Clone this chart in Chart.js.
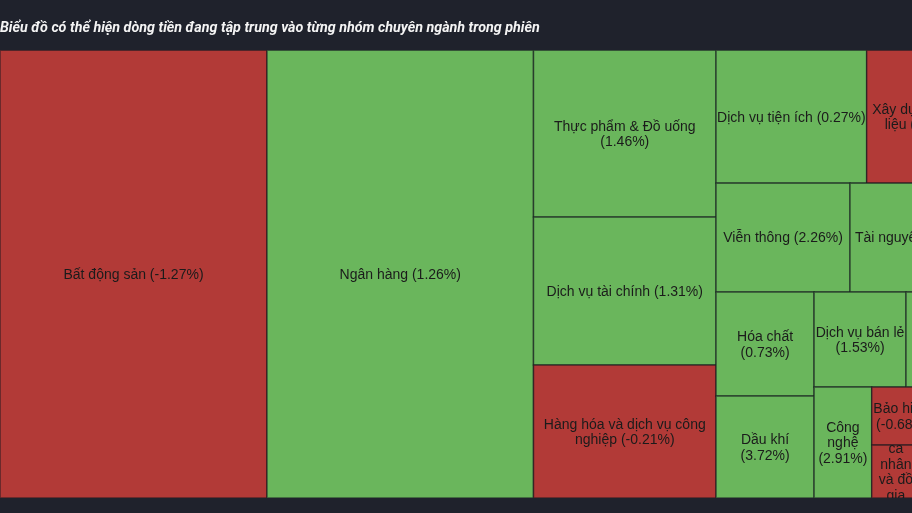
<!DOCTYPE html>
<html>
<head>
<meta charset="utf-8">
<script src="https://cdn.jsdelivr.net/npm/chart.js@4.4.1/dist/chart.umd.min.js"></script>
<style>
    html, body { margin: 0; padding: 0; background: #1f222c; }
    #wrap { width: 912px; height: 513px; }
</style>
</head>
<body>
<div id="wrap"><canvas id="sector-treemap"></canvas></div>
<script>
// ------------------------
// DATA (giá trị giao dịch, tỷ đồng; thay đổi giá, %)
// ------------------------

const sectors = [
    "Bất động sản", "Ngân hàng", "Thực phẩm & Đồ uống", "Dịch vụ tài chính",
    "Hàng hóa và dịch vụ công nghiệp", "Dịch vụ tiện ích", "Xây dựng và Vật liệu",
    "Viễn thông", "Tài nguyên", "Hóa chất", "Dầu khí", "Dịch vụ bán lẻ",
    "Du lịch và Giải trí", "Công nghệ", "Bảo hiểm", "Ô tô và phụ tùng",
    "Đồ dùng cá nhân và đồ gia dụng", "Truyền thông", "Y tế"
];

const tradeValues = [
    5981, 5970, 1524, 1351,
    1214, 1002, 767,
    730, 719, 510, 500, 437,
    361, 320, 181, 139,
    128, 85, 79
];

const priceChanges = [
    -1.27, 1.26, 1.46, 1.31,
    -0.21, 0.27, -0.45,
    2.26, 0.85, 0.73, 3.72, 1.53,
    0.94, 2.91, -0.68, 0.41,
    -0.35, 0.18, -0.12
];

const TITLE = "Biểu đồ có thể hiện dòng tiền đang tập trung vào từng nhóm chuyên ngành trong phiên";

// full treemap box (data units) and the visible window of it
const TREE_W = 982;
const TREE_H = 448;
const VIEW_W = 912;

const UP_COLOR = "#6ab65c";
const DOWN_COLOR = "#b23a37";

// ------------------------
// SQUARIFY LAYOUT
// ------------------------

function worstRatio(row, side) {
    const sum = row.reduce((a, b) => a + b, 0);
    const thick = sum / side;
    let worst = 0;
    row.forEach(a => {
        const len = a / thick;
        worst = Math.max(worst, thick / len, len / thick);
    });
    return worst;
}

function squarify(values, x, y, w, h) {
    const total = values.reduce((a, b) => a + b, 0);
    const areas = values.map(v => v * (w * h) / total);
    const out = [];
    let i = 0;
    while (i < areas.length) {
        const vertical = w >= h;
        const side = vertical ? h : w;
        const row = [areas[i]];
        let best = worstRatio(row, side);
        let j = i + 1;
        while (j < areas.length) {
            const next = worstRatio(row.concat(areas[j]), side);
            if (next > best) break;
            row.push(areas[j]);
            best = next;
            j++;
        }
        const thick = row.reduce((a, b) => a + b, 0) / side;
        let off = 0;
        row.forEach((a, k) => {
            const len = a / thick;
            out[i + k] = vertical
                ? { x: x, y: y + off, w: thick, h: len }
                : { x: x + off, y: y, w: len, h: thick };
            off += len;
        });
        if (vertical) { x += thick; w -= thick; } else { y += thick; h -= thick; }
        i = j;
    }
    return out;
}

function wrapWords(ctx, text, maxWidth) {
    const words = text.split(" ");
    const lines = [];
    let line = "";
    words.forEach(word => {
        const test = line ? line + " " + word : word;
        if (line && ctx.measureText(test).width > maxWidth) {
            lines.push(line);
            line = word;
        } else {
            line = test;
        }
    });
    if (line) lines.push(line);
    return lines;
}

// ------------------------
// TREEMAP PLUGIN
// ------------------------

const treemapCells = {
    id: "treemapCells",
    afterDatasetsDraw(chart) {
        const { ctx, chartArea, scales } = chart;
        const xs = scales.x, ys = scales.y;
        const rects = squarify(tradeValues, 0, 0, TREE_W, TREE_H);

        ctx.save();
        ctx.beginPath();
        ctx.rect(chartArea.left, chartArea.top, chartArea.width, chartArea.height);
        ctx.clip();

        rects.forEach((r, i) => {
            const left = xs.getPixelForValue(r.x);
            const right = xs.getPixelForValue(r.x + r.w);
            const top = ys.getPixelForValue(r.y);
            const bottom = ys.getPixelForValue(r.y + r.h);
            const w = right - left, h = bottom - top;

            ctx.fillStyle = priceChanges[i] >= 0 ? UP_COLOR : DOWN_COLOR;
            ctx.fillRect(left, top, w, h);

            // label, clipped to its cell
            ctx.save();
            ctx.beginPath();
            ctx.rect(left, top, w, h);
            ctx.clip();
            ctx.font = "14px 'Liberation Sans', Arial, sans-serif";
            ctx.fillStyle = "#1b1b1b";
            ctx.textAlign = "center";
            ctx.textBaseline = "middle";
            const label = sectors[i] + " (" + priceChanges[i].toFixed(2) + "%)";
            const lines = wrapWords(ctx, label, w - 2);
            const lh = 15.5;
            const cx = left + w / 2;
            const cy = top + h / 2 + 1;
            lines.forEach((ln, k) => {
                ctx.fillText(ln, cx, cy + (k - (lines.length - 1) / 2) * lh);
            });
            ctx.restore();

            ctx.strokeStyle = "rgba(20,24,30,0.6)";
            ctx.lineWidth = 1.5;
            ctx.strokeRect(left, top, w, h);
        });
        ctx.restore();
    }
};

// ------------------------
// CHART
// ------------------------

new Chart(document.getElementById("sector-treemap"), {
    type: "scatter",
    data: { datasets: [{ label: "Giá trị giao dịch", data: [] }] },
    options: {
        responsive: true,
        maintainAspectRatio: false,
        animation: false,
        layout: { padding: { left: 0, right: 0, top: 0, bottom: 15 } },
        scales: {
            x: { type: "linear", min: 0, max: VIEW_W, display: false },
            y: { type: "linear", min: 0, max: TREE_H, reverse: true, display: false }
        },
        plugins: {
            legend: { display: false },
            tooltip: { enabled: false },
            title: {
                display: true,
                text: TITLE,
                align: "start",
                color: "#f4f4f4",
                font: { family: "Roboto", size: 14.3, style: "italic", weight: "bold", lineHeight: 1.2 },
                padding: { top: 20, bottom: 13 }
            }
        }
    },
    plugins: [treemapCells]
});
</script>
</body>
</html>
